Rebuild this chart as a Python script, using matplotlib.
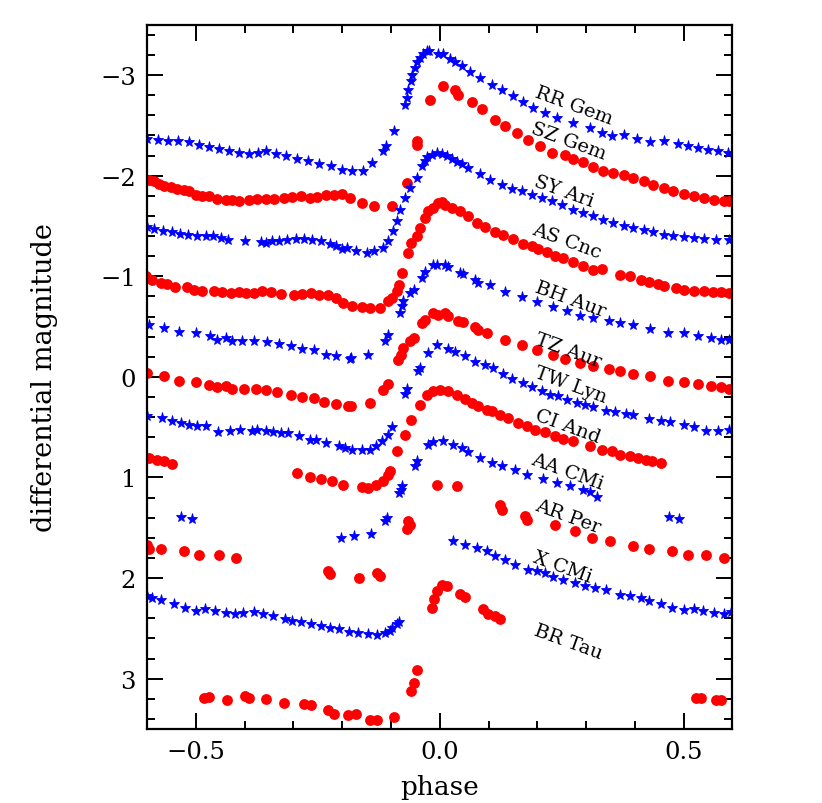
import numpy as np
import matplotlib
matplotlib.use("Agg")
import matplotlib.pyplot as plt
from matplotlib.ticker import MultipleLocator

plt.rcParams['font.family'] = ['DejaVu Serif']
plt.rcParams['mathtext.fontset'] = 'dejavuserif'

# light curves: (phase, differential magnitude)
rr_gem = [(-0.601, -2.363), (-0.578, -2.354), (-0.558, -2.344), (-0.537, -2.344), (-0.514, -2.334),
          (-0.494, -2.304), (-0.473, -2.284), (-0.453, -2.264), (-0.432, -2.244), (-0.412, -2.224),
          (-0.391, -2.214), (-0.372, -2.224), (-0.356, -2.244), (-0.335, -2.214), (-0.315, -2.195),
          (-0.292, -2.165), (-0.270, -2.145), (-0.247, -2.115), (-0.222, -2.095), (-0.200, -2.056),
          (-0.179, -2.046), (-0.158, -2.046), (-0.138, -2.125), (-0.117, -2.244), (-0.111, -2.294),
          (-0.093, -2.443), (-0.072, -2.701), (-0.068, -2.771), (-0.066, -2.850), (-0.060, -2.939),
          (-0.056, -2.999), (-0.051, -3.068), (-0.047, -3.128), (-0.041, -3.168), (-0.035, -3.208),
          (-0.027, -3.237), (-0.023, -3.237), (-0.004, -3.208), (0.006, -3.208), (0.021, -3.158),
          (0.031, -3.128), (0.045, -3.088), (0.062, -3.029), (0.082, -2.969), (0.107, -2.900),
          (0.128, -2.850), (0.150, -2.790), (0.171, -2.731), (0.191, -2.671), (0.216, -2.622),
          (0.241, -2.572), (0.274, -2.522), (0.309, -2.473), (0.333, -2.423), (0.354, -2.393),
          (0.377, -2.403), (0.405, -2.363), (0.432, -2.334), (0.459, -2.344), (0.488, -2.314),
          (0.508, -2.294), (0.529, -2.274), (0.549, -2.254), (0.570, -2.244), (0.591, -2.224)]

sz_gem = [(-0.597, -1.956), (-0.586, -1.946), (-0.576, -1.917), (-0.566, -1.897), (-0.551, -1.887),
          (-0.539, -1.867), (-0.525, -1.857), (-0.514, -1.847), (-0.500, -1.807), (-0.488, -1.797),
          (-0.473, -1.797), (-0.457, -1.768), (-0.438, -1.758), (-0.426, -1.758), (-0.412, -1.748),
          (-0.391, -1.758), (-0.374, -1.768), (-0.356, -1.768), (-0.340, -1.768), (-0.319, -1.778),
          (-0.302, -1.787), (-0.284, -1.797), (-0.267, -1.778), (-0.251, -1.787), (-0.233, -1.807),
          (-0.216, -1.807), (-0.200, -1.817), (-0.185, -1.778), (-0.160, -1.728), (-0.134, -1.698),
          (-0.097, -1.698), (-0.068, -1.927), (-0.047, -2.304), (-0.047, -2.344), (-0.021, -2.751),
          (0.006, -2.890), (0.031, -2.850), (0.037, -2.800), (0.066, -2.731), (0.086, -2.661),
          (0.113, -2.552), (0.134, -2.493), (0.158, -2.423), (0.181, -2.354), (0.206, -2.294),
          (0.230, -2.224), (0.257, -2.205), (0.274, -2.165), (0.294, -2.135), (0.315, -2.085),
          (0.335, -2.046), (0.356, -2.026), (0.377, -2.006), (0.397, -1.976), (0.418, -1.946),
          (0.438, -1.907), (0.459, -1.877), (0.479, -1.847), (0.500, -1.817), (0.521, -1.797),
          (0.541, -1.778), (0.562, -1.758), (0.582, -1.748), (0.593, -1.748)]

sy_ari = [(-0.601, -1.490), (-0.586, -1.470), (-0.568, -1.450), (-0.549, -1.440), (-0.533, -1.420),
          (-0.516, -1.410), (-0.498, -1.400), (-0.479, -1.400), (-0.465, -1.400), (-0.449, -1.380),
          (-0.434, -1.360), (-0.399, -1.351), (-0.366, -1.341), (-0.356, -1.331), (-0.344, -1.351),
          (-0.329, -1.351), (-0.313, -1.360), (-0.294, -1.370), (-0.278, -1.370), (-0.261, -1.360),
          (-0.243, -1.351), (-0.226, -1.321), (-0.212, -1.301), (-0.200, -1.271), (-0.191, -1.281),
          (-0.171, -1.251), (-0.150, -1.231), (-0.134, -1.251), (-0.117, -1.281), (-0.107, -1.351),
          (-0.095, -1.450), (-0.088, -1.549), (-0.082, -1.658), (-0.072, -1.778), (-0.062, -1.877),
          (-0.047, -1.976), (-0.037, -2.095), (-0.031, -2.145), (-0.027, -2.185), (-0.016, -2.205),
          (-0.006, -2.224), (0.004, -2.214), (0.014, -2.195), (0.025, -2.165), (0.035, -2.135),
          (0.045, -2.115), (0.058, -2.075), (0.082, -2.016), (0.103, -1.956), (0.128, -1.907),
          (0.148, -1.867), (0.169, -1.847), (0.189, -1.807), (0.210, -1.778), (0.230, -1.748),
          (0.251, -1.708), (0.274, -1.658), (0.294, -1.629), (0.315, -1.599), (0.335, -1.559),
          (0.356, -1.529), (0.377, -1.500), (0.397, -1.480), (0.418, -1.460), (0.438, -1.440),
          (0.459, -1.410), (0.479, -1.400), (0.500, -1.390), (0.521, -1.380), (0.541, -1.370),
          (0.566, -1.360), (0.593, -1.360)]

as_cnc = [(-0.603, -1.003), (-0.591, -0.963), (-0.572, -0.933), (-0.560, -0.923), (-0.543, -0.894),
          (-0.519, -0.894), (-0.504, -0.864), (-0.488, -0.854), (-0.463, -0.854), (-0.447, -0.844),
          (-0.428, -0.834), (-0.412, -0.844), (-0.397, -0.834), (-0.381, -0.834), (-0.364, -0.854),
          (-0.346, -0.844), (-0.325, -0.824), (-0.298, -0.814), (-0.282, -0.824), (-0.263, -0.834),
          (-0.247, -0.814), (-0.230, -0.814), (-0.212, -0.784), (-0.198, -0.735), (-0.179, -0.705),
          (-0.160, -0.695), (-0.144, -0.685), (-0.123, -0.685), (-0.107, -0.755), (-0.097, -0.784),
          (-0.088, -0.854), (-0.084, -0.913), (-0.078, -1.033), (-0.066, -1.231), (-0.058, -1.331),
          (-0.047, -1.400), (-0.041, -1.480), (-0.031, -1.579), (-0.025, -1.648), (-0.014, -1.678),
          (-0.004, -1.728), (0.004, -1.738), (0.010, -1.708), (0.025, -1.678), (0.041, -1.648),
          (0.058, -1.599), (0.076, -1.529), (0.093, -1.490), (0.113, -1.440), (0.130, -1.410),
          (0.150, -1.370), (0.171, -1.321), (0.189, -1.301), (0.202, -1.271), (0.220, -1.241),
          (0.237, -1.201), (0.253, -1.182), (0.274, -1.142), (0.294, -1.102), (0.315, -1.063),
          (0.333, -1.073), (0.370, -1.013), (0.391, -1.003), (0.412, -0.963), (0.428, -0.944),
          (0.447, -0.924), (0.459, -0.904), (0.484, -0.884), (0.500, -0.864), (0.521, -0.854),
          (0.541, -0.854), (0.560, -0.844), (0.576, -0.844), (0.593, -0.834)]

bh_aur = [(-0.597, -0.516), (-0.566, -0.487), (-0.535, -0.447), (-0.500, -0.437), (-0.471, -0.407),
          (-0.457, -0.367), (-0.438, -0.387), (-0.426, -0.357), (-0.405, -0.357), (-0.381, -0.357),
          (-0.354, -0.348), (-0.329, -0.328), (-0.305, -0.308), (-0.282, -0.278), (-0.257, -0.268),
          (-0.233, -0.218), (-0.212, -0.209), (-0.185, -0.179), (-0.181, -0.189), (-0.148, -0.218),
          (-0.113, -0.357), (-0.107, -0.417), (-0.082, -0.636), (-0.078, -0.705), (-0.076, -0.755),
          (-0.062, -0.834), (-0.053, -0.864), (-0.037, -0.983), (-0.031, -1.043), (-0.014, -1.112),
          (-0.006, -1.112), (0.010, -1.112), (0.016, -1.092), (0.041, -1.033), (0.047, -1.023),
          (0.072, -0.963), (0.078, -0.934), (0.103, -0.914), (0.134, -0.844), (0.169, -0.794),
          (0.200, -0.745), (0.233, -0.695), (0.261, -0.655), (0.288, -0.606), (0.315, -0.586),
          (0.346, -0.556), (0.370, -0.536), (0.397, -0.516), (0.432, -0.477), (0.467, -0.437),
          (0.500, -0.437), (0.529, -0.407), (0.556, -0.387), (0.576, -0.367), (0.593, -0.367)]

tz_aur = [(-0.601, -0.040), (-0.566, -0.010), (-0.535, 0.040), (-0.500, 0.050), (-0.473, 0.079),
          (-0.457, 0.099), (-0.438, 0.089), (-0.426, 0.119), (-0.401, 0.119), (-0.377, 0.119),
          (-0.356, 0.129), (-0.333, 0.149), (-0.305, 0.179), (-0.282, 0.199), (-0.257, 0.209),
          (-0.237, 0.248), (-0.212, 0.268), (-0.189, 0.288), (-0.181, 0.288), (-0.144, 0.258),
          (-0.117, 0.129), (-0.107, 0.070), (-0.086, -0.169), (-0.080, -0.218), (-0.076, -0.288),
          (-0.062, -0.357), (-0.053, -0.387), (-0.037, -0.536), (-0.031, -0.566), (-0.014, -0.636),
          (-0.004, -0.616), (0.010, -0.636), (0.016, -0.606), (0.037, -0.556), (0.047, -0.546),
          (0.072, -0.496), (0.078, -0.467), (0.097, -0.437), (0.134, -0.367), (0.169, -0.318),
          (0.200, -0.268), (0.233, -0.218), (0.257, -0.179), (0.288, -0.139), (0.315, -0.109),
          (0.346, -0.079), (0.370, -0.060), (0.397, -0.030), (0.432, -0.010), (0.467, 0.040),
          (0.500, 0.050), (0.529, 0.070), (0.556, 0.089), (0.576, 0.099), (0.593, 0.119)]

tw_lyn = [(-0.601, 0.387), (-0.570, 0.407), (-0.549, 0.437), (-0.531, 0.457), (-0.514, 0.477),
          (-0.498, 0.487), (-0.479, 0.487), (-0.455, 0.546), (-0.430, 0.536), (-0.409, 0.526),
          (-0.385, 0.536), (-0.374, 0.526), (-0.356, 0.536), (-0.342, 0.546), (-0.325, 0.556),
          (-0.311, 0.556), (-0.288, 0.586), (-0.267, 0.626), (-0.253, 0.626), (-0.233, 0.655),
          (-0.206, 0.685), (-0.195, 0.705), (-0.179, 0.725), (-0.160, 0.725), (-0.144, 0.725),
          (-0.130, 0.685), (-0.119, 0.636), (-0.107, 0.576), (-0.097, 0.497), (-0.072, 0.169),
          (-0.068, 0.119), (-0.045, -0.060), (-0.041, -0.089), (-0.025, -0.238), (-0.006, -0.318),
          (0.016, -0.278), (0.031, -0.248), (0.051, -0.209), (0.072, -0.149), (0.093, -0.119),
          (0.109, -0.089), (0.130, -0.030), (0.148, 0.020), (0.171, 0.060), (0.189, 0.099),
          (0.210, 0.139), (0.226, 0.179), (0.243, 0.189), (0.261, 0.228), (0.282, 0.258),
          (0.298, 0.278), (0.315, 0.298), (0.340, 0.338), (0.360, 0.348), (0.381, 0.367),
          (0.397, 0.377), (0.428, 0.417), (0.453, 0.437), (0.473, 0.447), (0.500, 0.477),
          (0.521, 0.497), (0.545, 0.536), (0.570, 0.536), (0.593, 0.526)]

ci_and = [(-0.597, 0.804), (-0.580, 0.824), (-0.566, 0.834), (-0.549, 0.864),
          (-0.292, 0.954), (-0.267, 0.993), (-0.243, 1.013), (-0.220, 1.033), (-0.198, 1.073),
          (-0.160, 1.092), (-0.148, 1.102), (-0.130, 1.073), (-0.117, 1.033), (-0.107, 0.973),
          (-0.103, 0.934), (-0.088, 0.735), (-0.072, 0.576), (-0.058, 0.427), (-0.041, 0.278),
          (-0.027, 0.179), (-0.014, 0.139), (0.000, 0.129), (0.016, 0.139), (0.035, 0.179),
          (0.051, 0.218), (0.066, 0.258), (0.078, 0.288), (0.097, 0.328), (0.107, 0.338),
          (0.123, 0.377), (0.140, 0.407), (0.160, 0.457), (0.179, 0.487), (0.195, 0.526),
          (0.216, 0.546), (0.237, 0.586), (0.253, 0.616), (0.274, 0.636), (0.309, 0.685),
          (0.333, 0.725), (0.354, 0.735), (0.370, 0.775), (0.391, 0.785), (0.407, 0.804),
          (0.422, 0.824), (0.436, 0.834), (0.453, 0.854)]

aa_cmi = [(-0.531, 1.390), (-0.508, 1.410), (-0.202, 1.599), (-0.175, 1.579), (-0.140, 1.559),
          (-0.113, 1.430), (-0.109, 1.400), (-0.084, 1.152), (-0.080, 1.122), (-0.078, 1.082),
          (-0.051, 0.884), (-0.047, 0.834), (-0.025, 0.675), (-0.014, 0.645), (0.006, 0.636),
          (0.027, 0.675), (0.045, 0.705), (0.058, 0.745), (0.082, 0.804), (0.107, 0.854),
          (0.128, 0.884), (0.154, 0.924), (0.179, 0.973), (0.212, 1.013), (0.241, 1.053),
          (0.267, 1.082), (0.294, 1.122), (0.309, 1.142), (0.323, 1.192),
          (0.469, 1.390), (0.490, 1.410)]

ar_per = [(-0.601, 1.668), (-0.597, 1.708), (-0.572, 1.708), (-0.525, 1.728), (-0.494, 1.767),
          (-0.453, 1.767), (-0.418, 1.797), (-0.230, 1.926), (-0.226, 1.956), (-0.165, 1.996),
          (-0.128, 1.946), (-0.123, 1.976), (-0.068, 1.509), (-0.062, 1.470), (-0.066, 1.430),
          (-0.006, 1.072), (0.035, 1.082), (0.123, 1.271), (0.128, 1.321), (0.175, 1.380),
          (0.179, 1.420), (0.237, 1.470), (0.278, 1.529), (0.313, 1.599), (0.350, 1.629),
          (0.397, 1.678), (0.428, 1.708), (0.477, 1.728), (0.508, 1.767), (0.545, 1.767),
          (0.582, 1.797)]

x_cmi = [(-0.601, 2.175), (-0.591, 2.195), (-0.572, 2.215), (-0.545, 2.254), (-0.523, 2.294),
         (-0.500, 2.324), (-0.481, 2.304), (-0.461, 2.324), (-0.438, 2.344), (-0.420, 2.354),
         (-0.403, 2.344), (-0.381, 2.334), (-0.362, 2.354), (-0.342, 2.373), (-0.317, 2.403),
         (-0.302, 2.423), (-0.284, 2.433), (-0.263, 2.453), (-0.243, 2.473), (-0.226, 2.493),
         (-0.206, 2.503), (-0.187, 2.532), (-0.167, 2.542), (-0.148, 2.552), (-0.128, 2.562),
         (-0.113, 2.542), (-0.103, 2.522), (-0.097, 2.493), (-0.088, 2.453), (-0.084, 2.433),
         (0.027, 1.628), (0.051, 1.668), (0.076, 1.698), (0.097, 1.728), (0.113, 1.777),
         (0.134, 1.817), (0.154, 1.867), (0.181, 1.916), (0.200, 1.926), (0.216, 1.946),
         (0.233, 1.986), (0.253, 2.016), (0.278, 2.046), (0.298, 2.075), (0.319, 2.095),
         (0.340, 2.115), (0.370, 2.165), (0.391, 2.175), (0.412, 2.195), (0.428, 2.224),
         (0.453, 2.254), (0.477, 2.294), (0.500, 2.314), (0.521, 2.304), (0.539, 2.324),
         (0.562, 2.344), (0.582, 2.354), (0.597, 2.334)]

br_tau = [(-0.484, 3.188), (-0.473, 3.178), (-0.436, 3.208), (-0.399, 3.168), (-0.391, 3.188),
          (-0.356, 3.198), (-0.319, 3.237), (-0.278, 3.247), (-0.263, 3.257), (-0.230, 3.307),
          (-0.216, 3.346), (-0.189, 3.356), (-0.171, 3.346), (-0.144, 3.406), (-0.128, 3.406),
          (-0.093, 3.376), (-0.058, 3.118), (-0.053, 3.039), (-0.047, 2.910), (-0.016, 2.294),
          (-0.012, 2.205), (-0.006, 2.125), (0.004, 2.066), (0.014, 2.075), (0.041, 2.155),
          (0.051, 2.185), (0.088, 2.304), (0.099, 2.354), (0.113, 2.373), (0.123, 2.403),
          (0.525, 3.188), (0.535, 3.188), (0.566, 3.208), (0.576, 3.208)]

stars = [rr_gem, sz_gem, sy_ari, as_cnc, bh_aur, tz_aur, tw_lyn, ci_and, aa_cmi, ar_per, x_cmi, br_tau]
names = ["RR Gem", "SZ Gem", "SY Ari", "AS Cnc", "BH Aur", "TZ Aur",
         "TW Lyn", "CI And", "AA CMi", "AR Per", "X CMi", "BR Tau"]
# where each name sits (phase, magnitude)
name_pos = [(0.275, -2.70), (0.265, -2.35), (0.255, -1.85), (0.26, -1.35), (0.268, -0.78), (0.263, -0.27),
            (0.268, 0.08), (0.262, 0.49), (0.262, 0.94), (0.262, 1.38), (0.252, 1.89), (0.263, 2.63)]

fig = plt.figure(figsize=(8.22, 8.04), dpi=100)
ax = fig.add_axes([0.179, 0.092, 0.712, 0.876])

for i, s in enumerate(stars):
    ph, mag = np.array(s).T
    if i % 2 == 0:
        ax.plot(ph, mag, ls='none', marker='*', ms=8, color='#0000ff', mew=0.6)
    else:
        ax.plot(ph, mag, ls='none', marker='o', ms=7.8, color='#ff0000', mew=0)

for name, (px, py) in zip(names, name_pos):
    ax.text(px, py, name, fontsize=14, rotation=-20, ha='center', va='center',
            rotation_mode='anchor')

ax.set_xlim(-0.6, 0.6)
ax.set_ylim(3.5, -3.5)
ax.xaxis.set_major_locator(MultipleLocator(0.5))
ax.xaxis.set_minor_locator(MultipleLocator(0.1))
ax.yaxis.set_major_locator(MultipleLocator(1))
ax.yaxis.set_minor_locator(MultipleLocator(0.2))
ax.tick_params(which='both', direction='in', top=True, right=True, width=1.4, labelsize=17.5)
ax.tick_params(which='major', length=11.5, pad=8)
ax.tick_params(which='minor', length=6)
for sp in ax.spines.values():
    sp.set_linewidth(1.6)

ax.set_xlabel("phase", fontsize=19, labelpad=8)
ax.set_ylabel("differential magnitude", fontsize=19.5, labelpad=30)

fig.savefig("out.png", dpi=100)
